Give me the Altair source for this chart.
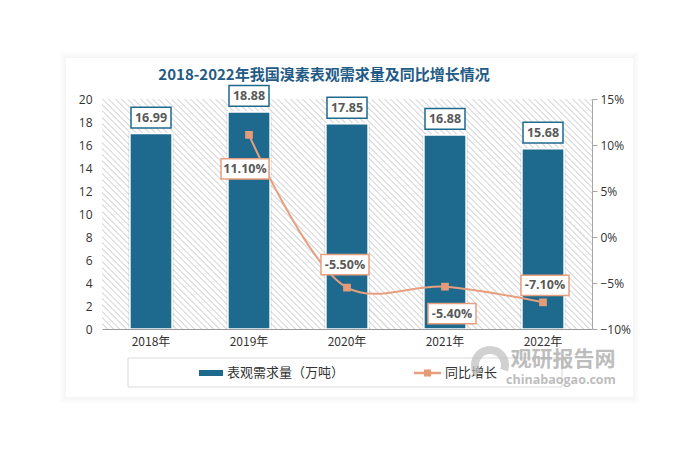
import altair as alt
import pandas as pd

# ---------------- data ----------------
years = ["2018年", "2019年", "2020年", "2021年", "2022年"]
demand = [16.99, 18.88, 17.85, 16.88, 15.68]
demand_text = ["16.99", "18.88", "17.85", "16.88", "15.68"]
growth_years = ["2019年", "2020年", "2021年", "2022年"]
growth = [0.111, -0.055, -0.054, -0.071]
growth_text = ["11.10%", "-5.50%", "-5.40%", "-7.10%"]
left_ticks = [0, 2, 4, 6, 8, 10, 12, 14, 16, 18, 20]
right_ticks = [-0.10, -0.05, 0.0, 0.05, 0.10, 0.15]

title_text = "2018-2022年我国溴素表观需求量及同比增长情况"
legend_bar = "表观需求量（万吨）"
legend_line = "同比增长"

df_bar = pd.DataFrame({"year": years, "demand": demand, "label": demand_text})
df_line = pd.DataFrame({"year": growth_years, "growth": growth, "label": growth_text})

# ---------------- style ----------------
W, H = 490, 230
BAR = "#1e6a8e"
ORANGE = "#e89f7f"
FONT = "Noto Sans CJK SC"
NUMFONT = "Open Sans"
one = pd.DataFrame({"k": [0]})

# hatch gradient (diagonal stripes)
k = H / W
t = (1 + k) / (1 + k * k)
N = 115
stops = []
for i in range(N):
    o0 = i / N
    o1 = (i + 0.68) / N
    o2 = min((i + 1) / N, 1.0)
    stops += [
        alt.GradientStop(offset=o0, color="#ffffff"),
        alt.GradientStop(offset=o1, color="#ffffff"),
        alt.GradientStop(offset=o1, color="#e2e2e2"),
        alt.GradientStop(offset=o2, color="#e2e2e2"),
    ]
hatch_grad = alt.LinearGradient(gradient="linear", stops=stops,
                                x1=0, y1=1, x2=t, y2=1 - t * k)

x_enc = alt.X("year:N",
              scale=alt.Scale(domain=years, paddingInner=0, paddingOuter=0),
              axis=alt.Axis(title=None, labelAngle=0, ticks=False, domainColor="#9a9a9a",
                            labelFont=FONT, labelFontSize=12, labelColor="#333333",
                            labelPadding=7, grid=False, zindex=2))

# ---------------- bars (every layer carries the same axis definition) ----------------
bar_scale = alt.Scale(domain=[0, 20], nice=False, zero=True)
ybar = alt.Y("demand:Q", scale=bar_scale,
             axis=alt.Axis(title=None, orient="left", values=left_ticks, domain=False,
                           ticks=False, grid=False, labelFont=NUMFONT, labelFontSize=12,
                           labelColor="#333333", labelPadding=10, zindex=2))
base_bar = alt.Chart(df_bar)
bar_shadow = base_bar.mark_bar(width={"band": 0.47}, color="#000000", opacity=0.07).encode(
    x=x_enc, y=ybar)
bars = base_bar.mark_bar(width={"band": 0.43}, color=BAR, stroke="#ffffff", strokeWidth=1.5).encode(
    x=x_enc, y=ybar)
box_path = "M-1,-0.52L1,-0.52L1,0.52L-1,0.52Z"
bar_boxes = base_bar.mark_point(shape=box_path, size=1600, filled=True, fill="#ffffff",
                                stroke=BAR, strokeWidth=1.5, opacity=1, yOffset=-16).encode(
    x=x_enc, y=ybar)
bar_text = base_bar.mark_text(dy=-16, font=NUMFONT, fontSize=12.5, fontWeight="bold",
                              color="#595959", baseline="middle").encode(
    x=x_enc, y=ybar, text="label:N")

# ---------------- decoration ----------------
shadow_layers = []
for i in range(1, 7):
    shadow_layers.append(
        alt.Chart(one).mark_rect(filled=False, stroke="#000000", strokeWidth=1,
                                 strokeOpacity=0.045 - 0.006 * i).encode(
            x=alt.value(-36 - i + 0.5), x2=alt.value(531 + i - 0.5),
            y=alt.value(-43 - i + 2.5), y2=alt.value(296 + i + 1.5))
    )
hatch = alt.Chart(one).mark_rect(fill=hatch_grad).encode(
    x=alt.value(0), x2=alt.value(W), y=alt.value(0), y2=alt.value(H))

title = alt.Chart(one).mark_text(text=title_text, font=FONT, fontSize=15, fontWeight="bold",
                                 color="#1f5b85", align="center", baseline="middle").encode(
    x=alt.value(222), y=alt.value(-24))

leg_box = alt.Chart(one).mark_rect(fill="#ffffff", stroke="#d9d9d9", strokeWidth=1).encode(
    x=alt.value(26), x2=alt.value(460), y=alt.value(259), y2=alt.value(288))
leg_sw = alt.Chart(one).mark_rect(fill=BAR).encode(
    x=alt.value(97), x2=alt.value(121), y=alt.value(271), y2=alt.value(277))
leg_t1 = alt.Chart(one).mark_text(text=legend_bar, font=FONT, fontSize=13, color="#333333",
                                  align="left", baseline="middle").encode(
    x=alt.value(125), y=alt.value(274))
leg_ln = alt.Chart(one).mark_rule(color=ORANGE, strokeWidth=2.5).encode(
    x=alt.value(312), x2=alt.value(339), y=alt.value(274))
leg_pt = alt.Chart(one).mark_point(shape="square", size=50, filled=True, color="#e59a78",
                                   opacity=1).encode(x=alt.value(325.5), y=alt.value(274))
leg_t2 = alt.Chart(one).mark_text(text=legend_line, font=FONT, fontSize=13, color="#333333",
                                  align="left", baseline="middle").encode(
    x=alt.value(343), y=alt.value(274))

wm_arc = alt.Chart(one).mark_arc(radius=19, radius2=11, theta=4.1, theta2=8.2,
                                 color="#bdbdbd", opacity=0.7).encode(
    x=alt.value(388), y=alt.value(266))
wm1 = alt.Chart(one).mark_text(text="观研报告网", font=FONT, fontSize=21, fontWeight="bold",
                               color="#a8a8a8", opacity=0.75, align="center",
                               baseline="middle").encode(x=alt.value(461), y=alt.value(261))
wm2 = alt.Chart(one).mark_text(text="chinabaogao.com", font=NUMFONT, fontSize=12.5,
                               fontWeight="bold", color="#a8a8a8", opacity=0.75,
                               align="center", baseline="middle").encode(
    x=alt.value(459), y=alt.value(281))

# ---------------- line (every layer carries the same axis definition) ----------------
line_scale = alt.Scale(domain=[-0.10, 0.15], nice=False, zero=False)
yline = alt.Y("growth:Q", scale=line_scale,
              axis=alt.Axis(title=None, orient="right", values=right_ticks, format=".0%",
                            domain=True, domainColor="#a6a6a6", ticks=True, tickColor="#a6a6a6",
                            tickSize=5, grid=False, labelFont=NUMFONT, labelFontSize=12,
                            labelColor="#333333", labelPadding=3, zindex=2))
base_line = alt.Chart(df_line)
line = base_line.mark_line(color=ORANGE, strokeWidth=2, interpolate="catmull-rom").encode(
    x=x_enc, y=yline)
pts = base_line.mark_point(shape="square", size=60, filled=True, color="#e59a78", opacity=1).encode(
    x=x_enc, y=yline)
pct_path = "M-1,-0.42L1,-0.42L1,0.42L-1,0.42Z"
offsets = {"2019年": (-4, 34), "2020年": (-2, -23), "2021年": (7, 27), "2022年": (2, -17)}
pct_layers = []
for yr, (dx, dy) in offsets.items():
    b = base_line.transform_filter(alt.datum.year == yr)
    pct_layers.append(b.mark_point(shape=pct_path, size=2304, filled=True, fill="#ffffff",
                                   stroke=ORANGE, strokeWidth=1.5, opacity=1,
                                   xOffset=dx, yOffset=dy).encode(
        x=x_enc, y=yline))
    pct_layers.append(b.mark_text(dx=dx, dy=dy, font=NUMFONT, fontSize=12.5, fontWeight="bold",
                                  color="#595959", baseline="middle").encode(
        x=x_enc, y=yline, text="label:N"))

bar_group = alt.layer(*shadow_layers, hatch, bar_shadow, bars, bar_boxes, bar_text,
                      title, leg_box, leg_sw, leg_t1, leg_ln, leg_pt, leg_t2,
                      wm_arc, wm1, wm2)
line_group = alt.layer(line, pts, *pct_layers)

chart = alt.layer(bar_group, line_group).resolve_scale(y="independent").properties(
    width=W, height=H,
    autosize=alt.AutoSizeParams(type="none"),
    padding={"left": 94, "top": 91, "right": 87, "bottom": 115},
    background="#ffffff",
).configure_view(stroke=None)

chart.save("out.html", embed_options={"renderer": "svg", "actions": False})
